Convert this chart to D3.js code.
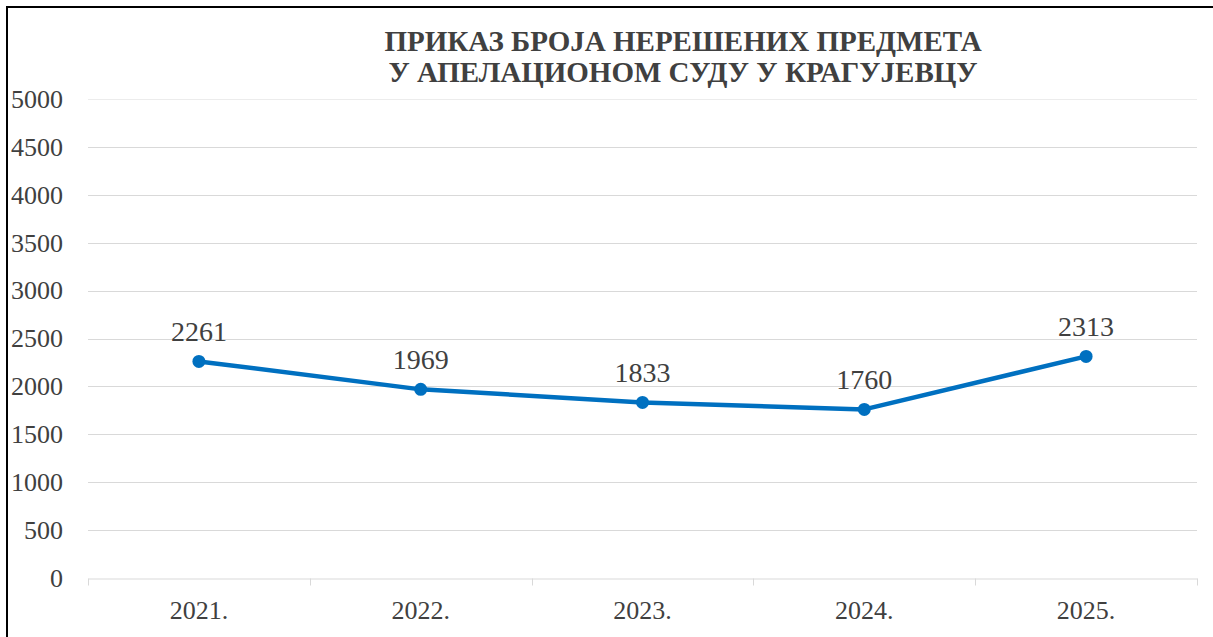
<!DOCTYPE html>
<html>
<head>
<meta charset="UTF-8">
<script src="https://d3js.org/d3.v7.min.js"></script>
<style>
html, body {
  margin: 0;
  padding: 0;
  background-color: white;
}
.axis text {
  font-size: 26px;
  fill: #404040;
}
.label {
  font-size: 28px;
  fill: #404040;
}
</style>
</head>
<body>
<div id="chart"></div>
<script>

// data
const years = ["2021.", "2022.", "2023.", "2024.", "2025."];
const unresolved = [2261, 1969, 1833, 1760, 2313];
const yTicks = [0, 500, 1000, 1500, 2000, 2500, 3000, 3500, 4000, 4500, 5000];
const titleLines = ["ПРИКАЗ БРОЈА НЕРЕШЕНИХ ПРЕДМЕТА", "У АПЕЛАЦИОНОМ СУДУ У КРАГУЈЕВЦУ"];

// size and margin
let totalWidth = 1213;
let totalHeight = 637;
let margin = {top: 99, right: 16, bottom: 59, left: 88};

let svg = d3.select("#chart")
  .append("svg")
  .attr("width", totalWidth)
  .attr("height", totalHeight)
  .attr("font-family", "Times New Roman");

// frame (right and bottom edges run off the picture)
svg.append("rect")
  .attr("x", 7)
  .attr("y", 7)
  .attr("width", totalWidth + 20)
  .attr("height", totalHeight + 20)
  .attr("fill", "white")
  .attr("stroke", "#000")
  .attr("stroke-width", 2);

// scales
let x = d3.scaleBand()
  .domain(years)
  .range([margin.left, totalWidth - margin.right]);

let y = d3.scaleLinear()
  .domain([0, 5000])
  .range([totalHeight - margin.bottom, margin.top]);

// gridlines
svg.append("g")
  .selectAll("line")
  .data(yTicks.filter(d => d > 0))
  .join("line")
  .attr("x1", margin.left)
  .attr("x2", totalWidth - margin.right)
  .attr("y1", d => Math.round(y(d)) + 0.5)
  .attr("y2", d => Math.round(y(d)) + 0.5)
  .attr("stroke", d => d === 5000 ? "#ececec" : "#d9d9d9")
  .attr("stroke-width", 1);

// y axis labels
let yAxis = svg.append("g")
  .attr("class", "axis")
  .attr("transform", `translate(${margin.left},0)`)
  .call(d3.axisLeft(y).tickValues(yTicks).tickFormat(d3.format("d")).tickSize(0).tickPadding(25));
yAxis.attr("font-family", null).attr("font-size", null);
yAxis.select(".domain").remove();

// x axis
let xAxis = svg.append("g")
  .attr("class", "axis")
  .attr("transform", `translate(0,${Math.round(y(0)) + 0.5})`)
  .call(d3.axisBottom(x).tickSize(0).tickPadding(22));
xAxis.attr("font-family", null).attr("font-size", null);
xAxis.select(".domain").attr("stroke", "#d9d9d9");

// category tick marks at band edges
let edges = years.map(d => x(d)).concat([x.range()[1]]);
xAxis.append("g")
  .selectAll("line")
  .data(edges)
  .join("line")
  .attr("x1", d => Math.round(d) + 0.5)
  .attr("x2", d => Math.round(d) + 0.5)
  .attr("y1", 0)
  .attr("y2", 7)
  .attr("stroke", "#d9d9d9");

// line
let cx = (d, i) => x(years[i]) + x.bandwidth() / 2;

svg.append("path")
  .datum(unresolved)
  .attr("fill", "none")
  .attr("stroke", "#0070C0")
  .attr("stroke-width", 4.5)
  .attr("stroke-linejoin", "round")
  .attr("d", d3.line().x(cx).y(d => y(d)));

// markers
svg.append("g")
  .selectAll("circle")
  .data(unresolved)
  .join("circle")
  .attr("cx", cx)
  .attr("cy", d => y(d))
  .attr("r", 6.5)
  .attr("fill", "#0070C0");

// data labels
svg.append("g")
  .selectAll("text")
  .data(unresolved)
  .join("text")
  .attr("class", "label")
  .attr("x", cx)
  .attr("y", d => y(d) - 20)
  .attr("text-anchor", "middle")
  .text(d => d);

// title
svg.append("g")
  .selectAll("text")
  .data(titleLines)
  .join("text")
  .attr("x", 683)
  .attr("y", (d, i) => 51 + i * 31)
  .attr("text-anchor", "middle")
  .attr("font-family", "Times New Roman")
  .attr("font-weight", "bold")
  .attr("font-size", 29)
  .attr("fill", "#404040")
  .text(d => d);

</script>
</body>
</html>
